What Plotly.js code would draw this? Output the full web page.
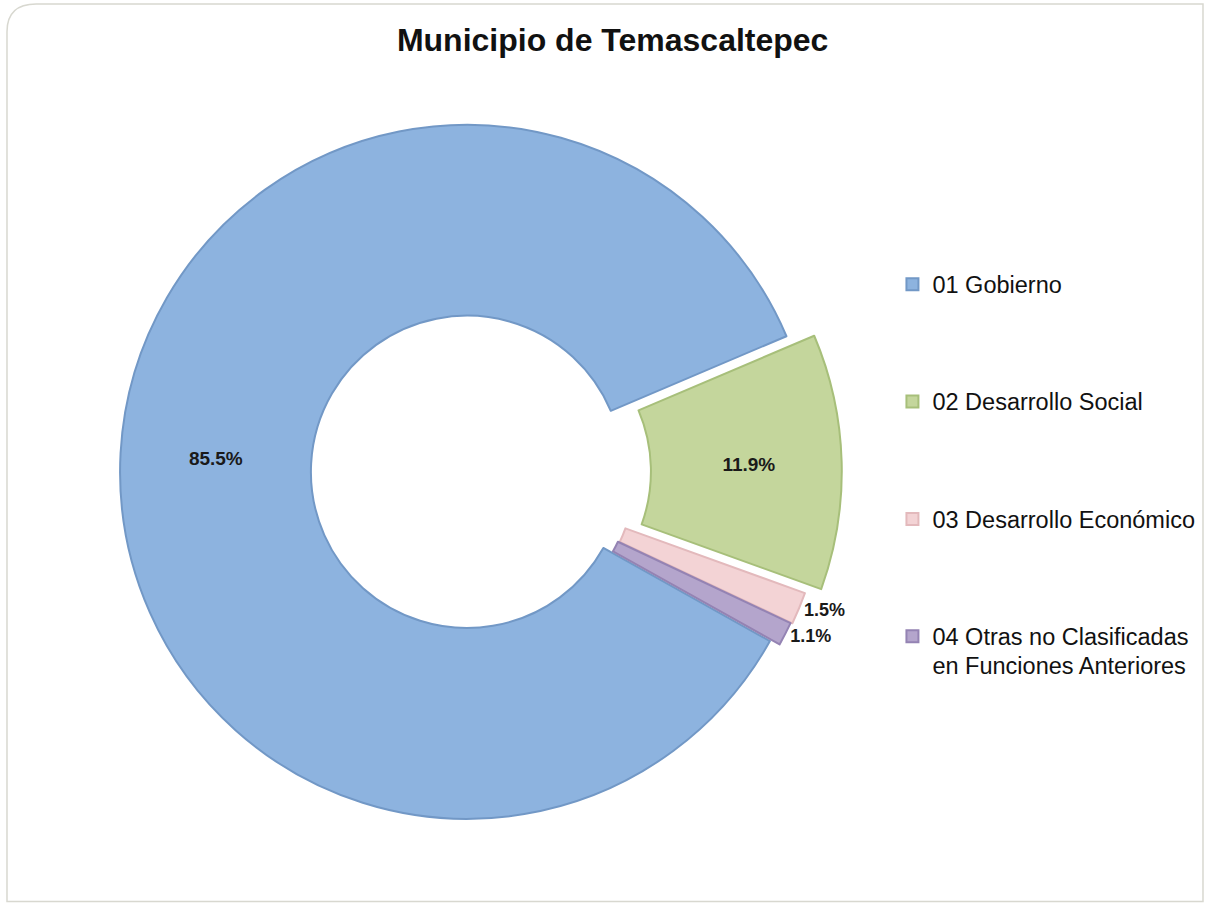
<!DOCTYPE html>
<html>
<head>
<meta charset="utf-8">
<script src="https://cdn.plot.ly/plotly-3.0.1.min.js"></script>
<style>html,body{margin:0;padding:0;background:#fff;}#chart{width:1206px;height:905px;}</style>
</head>
<body>
<div id="chart"></div>
<script>
// Data
var categories = ["01 Gobierno", "02 Desarrollo Social", "03 Desarrollo Económico", "04 Otras no Clasificadas<br>en Funciones Anteriores"];
var shares = [85.5, 11.9, 1.5, 1.1];
var chartTitle = "Municipio de Temascaltepec";

// Styles
var fillColors = ["#8db3df", "#c4d69c", "#f3d3d5", "#b4a5cc"];
var edgeColors = ["#7298c6", "#a7bf7a", "#e3b9bc", "#9483b3"];
var pulls = [0.01, 0.07, 0.025, 0.02];

// legend entries: slightly larger text, padded to an equal number of lines so spacing matches
var legendLabels = categories.map(function (c) {
  var parts = c.split("<br>");
  var out = parts.map(function (p) { return '<span style="font-size:23.5px">' + p + '</span>'; });
  while (out.length < 4) out.push("\u00a0");
  return out.join("<br>");
});

var trace = {
  type: "pie",
  labels: legendLabels,
  values: shares,
  sort: false,
  direction: "clockwise",
  rotation: 119.2,
  hole: 0.45,
  pull: pulls,
  marker: { colors: fillColors, line: { color: edgeColors, width: 2 } },
  textinfo: "percent",
  texttemplate: "%{value:.1f}%",
  textposition: ["inside", "inside", "outside", "outside"],
  insidetextorientation: "horizontal",
  textfont: { family: "Liberation Sans, Arial, sans-serif", size: 19, color: "#1a1a1a", weight: "bold" },
  outsidetextfont: { family: "Liberation Sans, Arial, sans-serif", size: 18, color: "#1a1a1a", weight: "bold" },
  domain: { x: [0.0823, 0.6980], y: [0.0682, 0.8887] },
  hoverinfo: "percent"
};

var layout = {
  width: 1206,
  height: 905,
  margin: { l: 0, r: 0, t: 0, b: 0 },
  paper_bgcolor: "#ffffff",
  title: {
    text: chartTitle,
    x: 0.508, xanchor: "center",
    y: 0.956, yanchor: "middle",
    font: { family: "Liberation Sans, Arial, sans-serif", size: 32, color: "#111111", weight: "bold" }
  },
  showlegend: true,
  legend: {
    x: 0.740, xanchor: "left",
    y: 0.709, yanchor: "top",
    valign: "top",
    traceorder: "normal",
    font: { family: "Liberation Sans, Arial, sans-serif", size: 22, color: "#111111" },
    bgcolor: "rgba(0,0,0,0)"
  },
  shapes: [{
    type: "path", xref: "paper", yref: "paper",
    path: "M 0.0058,0.96 L 0.0058,0.004 L 0.9975,0.004 L 0.9975,0.9956 L 0.03,0.9956 Q 0.0058,0.9956 0.0058,0.965 Z",
    line: { color: "#d8d8d0", width: 1.5 },
    fillcolor: "rgba(0,0,0,0)",
    layer: "below"
  }]
};

Plotly.newPlot("chart", [trace], layout, { displayModeBar: false, staticPlot: true });
</script>
</body>
</html>
